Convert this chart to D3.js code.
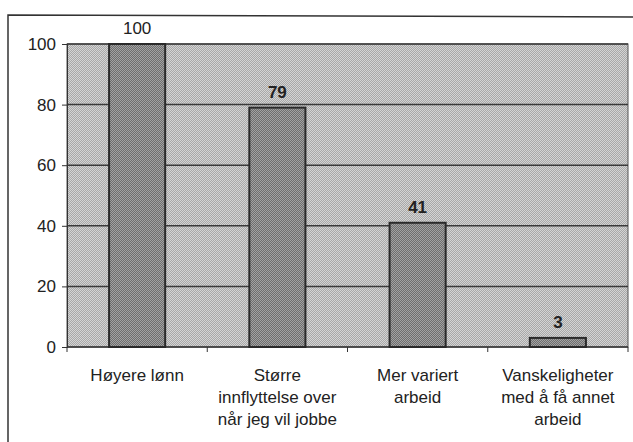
<!DOCTYPE html>
<meta charset="utf-8">
<style>
body { margin: 0; background: #fff; }
text { font-family: "Liberation Sans", Arial, sans-serif; fill: #222; }
</style>
<svg width="633" height="442"></svg>
<script src="https://cdn.jsdelivr.net/npm/d3@7"></script>
<script>
var categories = [
  ["Høyere lønn"],
  ["Større", "innflyttelse over", "når jeg vil jobbe"],
  ["Mer variert", "arbeid"],
  ["Vanskeligheter", "med å få annet", "arbeid"]
];
var values = [100, 79, 41, 3];
var yTicks = [0, 20, 40, 60, 80, 100];

var svg = d3.select("svg"),
    margin = {top: 44, right: 5, bottom: 95, left: 67},
    width = 633 - margin.left - margin.right,
    height = 442 - margin.top - margin.bottom;

// dither patterns
var defs = svg.append("defs");
function dither(id, a, b) {
  var p = defs.append("pattern").attr("id", id)
    .attr("width", 2).attr("height", 2).attr("patternUnits", "userSpaceOnUse");
  p.append("rect").attr("width", 2).attr("height", 2).attr("fill", a);
  p.append("rect").attr("width", 1).attr("height", 1).attr("fill", b);
  p.append("rect").attr("x", 1).attr("y", 1).attr("width", 1).attr("height", 1).attr("fill", b);
}
dither("bg", "#d4d4d4", "#a8a8a8");
dither("bar", "#a2a2a2", "#6e6e6e");

// outer frame
svg.append("path")
  .attr("d", "M8,442 L8,15 L633,17")
  .attr("fill", "none").attr("stroke", "#333").attr("stroke-width", 1.5);

var g = svg.append("g").attr("transform", "translate(" + margin.left + "," + margin.top + ")");

var x = d3.scaleBand().domain(d3.range(values.length)).range([0, width])
  .paddingInner(0.6).paddingOuter(0.3);
var xTick = d3.scaleLinear().domain([0, values.length]).range([0, width]);
var y = d3.scaleLinear().domain([0, 100]).range([height, 0]);

g.append("rect").attr("width", width).attr("height", height)
  .attr("fill", "url(#bg)").attr("stroke", "#555").attr("stroke-width", 1);

// grid
g.append("g").selectAll("line").data(yTicks.filter(function(d) { return d > 0; }))
  .enter().append("line")
  .attr("x1", 0).attr("x2", width)
  .attr("y1", function(d) { return y(d); }).attr("y2", function(d) { return y(d); })
  .attr("stroke", "#3a3a3a").attr("stroke-width", 1.5);

// y axis
var yAxis = g.append("g").call(d3.axisLeft(y).tickValues(yTicks).tickSize(5).tickPadding(6));
yAxis.select(".domain").attr("stroke", "#333");
yAxis.selectAll(".tick line").attr("stroke", "#333");
yAxis.selectAll(".tick text").style("font-size", "17px").attr("fill", "#222")
  .style("font-family", "'Liberation Sans', Arial, sans-serif");

// bottom axis with category separators
var bx = g.append("g").attr("transform", "translate(0," + height + ")");
bx.append("line").attr("x1", 0).attr("x2", width).attr("stroke", "#333").attr("stroke-width", 1.5);
bx.selectAll(".sep").data(d3.range(values.length + 1)).enter().append("line")
  .attr("x1", function(d) { return xTick(d); }).attr("x2", function(d) { return xTick(d); })
  .attr("y1", 0).attr("y2", 5).attr("stroke", "#333");

// bars
g.append("g").selectAll("rect").data(values).enter().append("rect")
  .attr("x", function(d, i) { return x(i); })
  .attr("y", function(d) { return y(d); })
  .attr("width", x.bandwidth())
  .attr("height", function(d) { return height - y(d); })
  .attr("fill", "url(#bar)").attr("stroke", "#2a2a2a").attr("stroke-width", 2);

// value labels
g.append("g").selectAll("text").data(values).enter().append("text")
  .attr("x", function(d, i) { return x(i) + x.bandwidth() / 2; })
  .attr("y", function(d) { return y(d) - 10; })
  .attr("text-anchor", "middle").style("font-size", "17px")
  .attr("fill", function(d, i) { return i === 0 ? "#222" : "#3a3a3a"; })
  .style("font-weight", function(d, i) { return i === 0 ? "normal" : "bold"; })
  .text(function(d) { return d; });

// category labels
var labels = g.append("g").selectAll("text").data(categories).enter().append("text")
  .attr("text-anchor", "middle").style("font-size", "17px")
  .attr("transform", function(d, i) { return "translate(" + (x(i) + x.bandwidth() / 2) + "," + (height + 34) + ")"; });
labels.selectAll("tspan").data(function(d) { return d; }).enter().append("tspan")
  .attr("x", 0).attr("dy", function(d, j) { return j === 0 ? 0 : 22; })
  .text(function(d) { return d; });
</script>
